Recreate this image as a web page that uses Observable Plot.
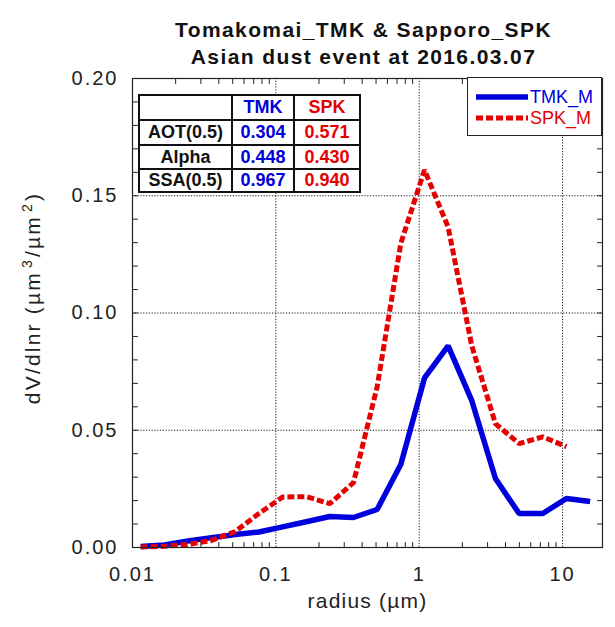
<!DOCTYPE html>
<html><head><meta charset="utf-8">
<script src="https://cdn.jsdelivr.net/npm/d3@7"></script>
<script src="https://cdn.jsdelivr.net/npm/@observablehq/plot@0.6"></script>
<style>
body{margin:0;background:#fff;}
#wrap{position:relative;width:615px;height:627px;font-family:"Liberation Sans",Arial,sans-serif;}
#tbl{position:absolute;left:138px;top:94px;border-collapse:collapse;table-layout:fixed;background:#fff;}
#tbl td{border:2px solid #111;padding:0;text-align:center;font-weight:bold;font-size:18px;line-height:19px;}
#leg{position:absolute;left:467px;top:77px;width:133px;height:57px;border:1.5px solid #222;background:#fff;}
#leg .row{position:absolute;left:8px;height:20px;}
#leg svg{position:absolute;left:0;top:0;}
#leg span{position:absolute;left:54px;top:0;font-size:18px;line-height:20px;white-space:nowrap;}
</style></head><body><div id="wrap"></div>
<script>
// Data
const radius = [0.0114,0.0167,0.0244,0.0356,0.0521,0.0762,0.1114,0.163,0.238,0.348,0.509,0.745,1.089,1.592,2.328,3.404,4.977,7.278,10.64,15.56];
const tmkValues = [0.0004,0.0011,0.0028,0.0042,0.0055,0.0066,0.0088,0.0110,0.0132,0.0128,0.0162,0.0355,0.0723,0.0860,0.0626,0.0294,0.0145,0.0145,0.0209,0.0196];
const spkValues = [0.0002,0.0005,0.0013,0.0030,0.0068,0.0145,0.0215,0.0217,0.0187,0.0277,0.0685,0.1298,0.1610,0.1366,0.0860,0.0528,0.0443,0.0472,0.0430];
const seriesNames = ["TMK_M","SPK_M"];
const seriesColors = ["#0000dc","#e60000"];
const tableHeader = ["","TMK","SPK"];
const tableRows = ["AOT(0.5)","Alpha","SSA(0.5)"];
const tmkParams = ["0.304","0.448","0.967"];
const spkParams = ["0.571","0.430","0.940"];
const xTickValues = [0.01,0.1,1,10];
const xTickLabels = ["0.01","0.1","1","10"];
const yTickValues = [0,0.05,0.1,0.15,0.2];
const yTickLabels = ["0.00","0.05","0.10","0.15","0.20"];
const titleLines = ["Tomakomai_TMK & Sapporo_SPK","Asian dust event at 2016.03.07"];
const xLabel = "radius (µm)";
const yLabel = "dV/dlnr (µm3/µm2)";
const yLabelParts = [["dV/dlnr (µm",false],["3",true],["/µm",false],["2",true],[")",false]];

const tmk = radius.map((r,i)=>({r, v: tmkValues[i]}));
const spk = spkValues.map((v,i)=>({r: radius[i], v}));

const yMinor = d3.range(1,20).map(k=>k/100);
const xMinor = [];
[0.01,0.1,1,10].forEach(dec=>{for(let m=2;m<=9;m++){const v=m*dec; if(v<19) xMinor.push(v);}});

const tickShape = {draw(ctx, l){ctx.moveTo(0,0); ctx.lineTo(0,-l);}};
const tickStyle = {stroke:"#222", strokeWidth:1, length:5, anchor:"start", shape:tickShape};
const xLab = new Map(xTickValues.map((v,i)=>[v,xTickLabels[i]]));
const yLab = new Map(yTickValues.map((v,i)=>[v,yTickLabels[i]]));

const plot = Plot.plot({
  width:615, height:627,
  marginLeft:132, marginRight:13, marginTop:78, marginBottom:80,
  style:{fontFamily:"'Liberation Sans', Arial, sans-serif", background:"white", color:"#222"},
  x:{type:"log", domain:[0.01,19], label:null},
  y:{domain:[0,0.2], label:null},
  marks:[
    Plot.gridX([0.1,1,10], {stroke:"#000", strokeOpacity:0.9, strokeDasharray:"1.2,1.6"}),
    Plot.gridY([0.05,0.1,0.15], {stroke:"#000", strokeOpacity:0.9, strokeDasharray:"1.2,1.6"}),
    Plot.vector(yMinor, {y:d=>d, frameAnchor:"left", rotate:90, ...tickStyle}),
    Plot.vector(yMinor, {y:d=>d, frameAnchor:"right", rotate:-90, ...tickStyle}),
    Plot.vector(xMinor, {x:d=>d, frameAnchor:"bottom", rotate:0, ...tickStyle}),
    Plot.vector(xMinor, {x:d=>d, frameAnchor:"top", rotate:180, ...tickStyle}),
    Plot.line(tmk, {x:"r", y:"v", stroke:seriesColors[0], strokeWidth:5.5, strokeLinejoin:"miter", strokeLinecap:"butt"}),
    Plot.line(spk, {x:"r", y:"v", stroke:seriesColors[1], strokeWidth:5, strokeDasharray:"7,3", strokeLinejoin:"miter", strokeLinecap:"butt"}),
    Plot.frame({stroke:"#222", strokeWidth:1.2}),
    Plot.axisX(xTickValues, {tickSize:0, tickPadding:19, fontSize:20, tickFormat:d=>xLab.get(d)}),
    Plot.axisY(yTickValues, {tickSize:0, tickPadding:14, fontSize:20, tickFormat:d=>yLab.get(d)}),
    Plot.text([xLabel], {text:d=>d, frameAnchor:"bottom", dy:60, fontSize:21, fill:"#222"}),
    Plot.text([yLabel], {text:d=>d, frameAnchor:"left", dx:-99, dy:-11, rotate:-90, fontSize:21, fill:"#222"}),
    Plot.text([titleLines[0]], {text:d=>d, frameAnchor:"top", dx:-4, dy:-56, fontSize:21, fontWeight:"bold", fill:"#111"}),
    Plot.text([titleLines[1]], {text:d=>d, frameAnchor:"top", dx:-4, dy:-29, fontSize:21, fontWeight:"bold", fill:"#111"})
  ]
});
const wrap = document.getElementById("wrap");
wrap.appendChild(plot);
const svg = d3.select(plot);
const byText = s => svg.selectAll("text").filter(function(){return this.textContent === s;});
xTickLabels.concat(yTickLabels).forEach(s=>byText(s).style("letter-spacing","2px"));
titleLines.forEach(s=>byText(s).style("letter-spacing","1.4px"));
byText(xLabel).style("letter-spacing","1.2px");
// y label with superscripts
byText(yLabel).each(function(){
  const t = d3.select(this);
  t.text(null).style("letter-spacing","2.2px").attr("text-anchor","start");
  yLabelParts.forEach(([s,sup],i)=>{
    const ts = t.append("tspan").text(s);
    if (sup) ts.attr("dy","-8").attr("dx","3").attr("font-size","14px");
    else if (i>0) ts.attr("dy","8").attr("dx","1");
  });
  const len = this.getComputedTextLength();
  t.attr("x", -len/2);
});

// inset table
const tbl = document.createElement("table");
tbl.id = "tbl";
const colW = [91,60,64];
const rowH = [23,23,22,21];
const colColors = ["#111", seriesColors[0], seriesColors[1]];
const rows = [tableHeader].concat(tableRows.map((n,i)=>[n, tmkParams[i], spkParams[i]]));
rows.forEach((row,ri)=>{
  const tr = document.createElement("tr");
  row.forEach((c,ci)=>{
    const td = document.createElement("td");
    td.textContent = c;
    td.style.width = colW[ci]+"px";
    td.style.height = rowH[ri]+"px";
    td.style.color = colColors[ci];
    tr.appendChild(td);
  });
  tbl.appendChild(tr);
});
wrap.appendChild(tbl);

// legend
const leg = document.createElement("div");
leg.id = "leg";
seriesNames.forEach((name,i)=>{
  const row = document.createElement("div");
  row.className = "row";
  row.style.top = (9 + i*21)+"px";
  row.innerHTML = `<svg width="52" height="20"><line x1="0" x2="52" y1="10" y2="10" stroke="${seriesColors[i]}" stroke-width="${i?5:5.5}" ${i?'stroke-dasharray="7,3"':''}/></svg><span style="color:${seriesColors[i]}">${name}</span>`;
  leg.appendChild(row);
});
wrap.appendChild(leg);
</script></body></html>
